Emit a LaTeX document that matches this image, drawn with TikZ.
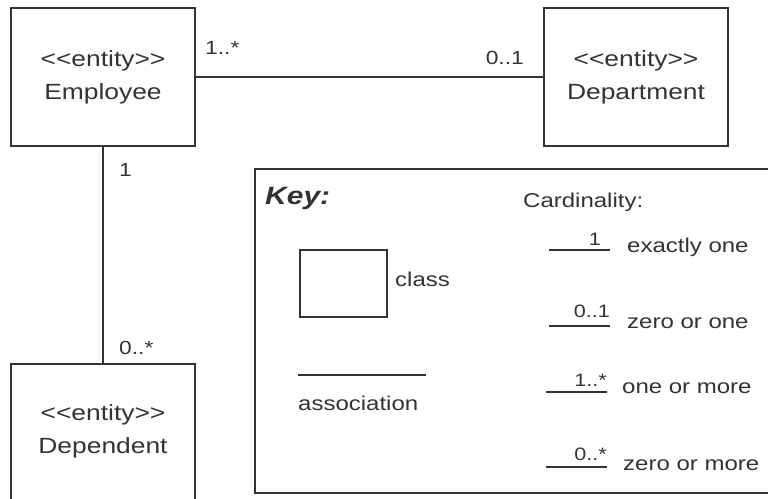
\documentclass[tikz,border=0pt]{standalone}
\usepackage{fontspec}
\setmainfont{Liberation Sans}[FakeStretch=1.2]
\definecolor{ink}{HTML}{333333}
\newcommand\stereo{<\kern0pt<entity>\kern0pt>}
\begin{document}
\begin{tikzpicture}[x=1pt,y=-1pt,
  box/.style={draw=ink, line width=1.6pt, fill=white, inner sep=0pt},
  ent/.style={text=ink, inner sep=0pt, font=\fontsize{22}{33}\selectfont, align=center},
  mult/.style={text=ink, inner sep=0pt, font=\fontsize{19}{22}\selectfont},
  keytxt/.style={text=ink, inner sep=0pt, font=\fontsize{20}{24}\selectfont},
  small/.style={text=ink, inner sep=0pt, font=\fontsize{18}{22}\selectfont},
  conn/.style={draw=ink, line width=1.6pt},
  kline/.style={draw=ink, line width=1.4pt}]
\fill[white] (0,0) rectangle (768,498);
\useasboundingbox (0,0) rectangle (768,498);
\clip (0,0) rectangle (768,498);
% entities
\node[box, ent, minimum width=184pt, minimum height=138pt] (emp) at (103,77) {\stereo\\Employee};
\node[box, ent, minimum width=184pt, minimum height=138pt] (dept) at (636,77) {\stereo\\Department};
\node[box, minimum width=184pt, minimum height=170pt, anchor=north] (dep) at (103,363) {};
\node[ent] (deptxt) at (103,431) {\stereo\\Dependent};
% associations
\draw[conn] (emp) -- (dept);
\draw[conn] (emp.south) -- (dep.north);
\node[mult, anchor=west] (m1) at (205,48) {1..*};
\node[mult, anchor=east] (m2) at (524,58) {0..1};
\node[mult, anchor=west] (m3) at (119,170) {1};
\node[mult, anchor=west] (m4) at (119,348) {0..*};
% key
\node[box, anchor=north west, minimum width=540pt, minimum height=324pt] (key) at (254,168) {};
\node[text=ink, inner sep=0pt, font=\fontsize{25}{30}\selectfont\bfseries\itshape, anchor=west] (keyt) at (265,198) {Key:};
\node[keytxt, anchor=west] (cardt) at (523,202) {Cardinality:};
\node[box, line width=1.4pt, minimum width=87pt, minimum height=67pt] (cls) at (343.5,283.5) {};
\node[keytxt, anchor=west] (clst) at (395,279) {class};
\coordinate (a1) at (298,375);
\coordinate (a2) at (426,375);
\draw[kline] (a1) -- (a2);
\node[keytxt, anchor=west] (asst) at (298,403) {association};
% cardinalities
\coordinate (c1a) at (549,250); \coordinate (c1b) at (610,250);
\coordinate (c2a) at (549,326); \coordinate (c2b) at (610,326);
\coordinate (c3a) at (546,392); \coordinate (c3b) at (607,392);
\coordinate (c4a) at (546,467); \coordinate (c4b) at (607,467);
\draw[kline] (c1a) -- (c1b);
\draw[kline] (c2a) -- (c2b);
\draw[kline] (c3a) -- (c3b);
\draw[kline] (c4a) -- (c4b);
\node[small, anchor=east] (l1) at (601,239) {1};
\node[small, anchor=east] (l2) at (610,311) {0..1};
\node[small, anchor=east] (l3) at (607,380) {1..*};
\node[small, anchor=east] (l4) at (607,454) {0..*};
\node[keytxt, anchor=west] (d1) at (627,247) {exactly one};
\node[keytxt, anchor=west] (d2) at (627,323) {zero or one};
\node[keytxt, anchor=west] (d3) at (622,388) {one or more};
\node[keytxt, anchor=west] (d4) at (623,465) {zero or more};
\end{tikzpicture}
\end{document}
